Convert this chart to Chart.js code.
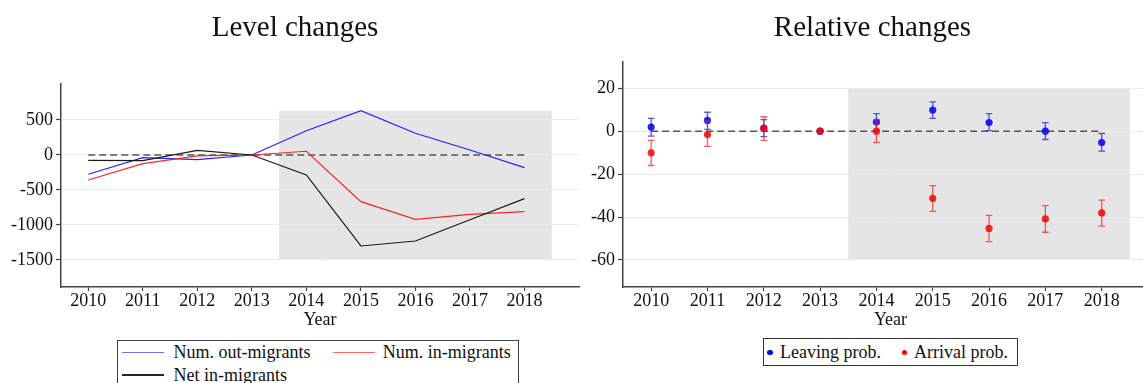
<!DOCTYPE html>
<html>
<head>
<meta charset="utf-8">
<script src="https://cdn.jsdelivr.net/npm/chart.js@4.4.1/dist/chart.umd.min.js"></script>
<style>
  html, body { margin: 0; padding: 0; overflow: hidden; background: #fff; }
  #wrap { position: relative; width: 1143px; height: 383px; overflow: hidden;
          font-family: "Liberation Serif", "Times New Roman", serif; color: #111; }
  canvas { position: absolute; top: 0; }
  #cLevel { left: 0; }
  #cRel { left: 580px; }
  .legend { position: absolute; box-sizing: border-box; background: #fff;
            font-size: 18px; line-height: 20px; }
  .item { position: absolute; white-space: nowrap; }
  .swatch { position: absolute; height: 1.5px; }
  .dot { position: absolute; width: 5.4px; height: 5.4px; border-radius: 50%; }
</style>
</head>
<body>
<div id="wrap">
  <canvas id="cLevel" width="580" height="383"></canvas>
  <canvas id="cRel" width="582" height="383"></canvas>
  <div id="legLevel" class="legend" style="left:117px;top:339.5px;width:402px;height:60px;border:1.5px solid #444;"></div>
  <div id="legRel" class="legend" style="left:762.7px;top:338.3px;width:255px;height:28px;border:1px solid #333;"></div>
</div>
<script>
// ---- data ----
const years = [2010, 2011, 2012, 2013, 2014, 2015, 2016, 2017, 2018];

// Level changes (persons, relative to 2013)
const outMigrants   = [-276, -38, -67, 0, 347, 633, 310, 71, -181];
const inMigrants    = [-357, -124, -14, 0, 53, -667, -919, -848, -809];
const netInMigrants = [-76, -81, 67, 0, -286, -1300, -1229, -925, -624];
const levelTicks = [-1500, -1000, -500, 0, 500];

// Relative changes (%, relative to 2013) with confidence intervals
const leaveEst  = [1.9, 5.0, 1.4, 0, 4.2, 9.8, 4.0, 0.0, -5.3];
const leaveLo   = [-2.3, 0.8, -2.6, null, 0.2, 5.9, 0.2, -3.9, -9.3];
const leaveHi   = [5.9, 8.8, 5.4, null, 8.2, 13.6, 8.2, 4.0, -1.1];
const arriveEst = [-10.1, -1.6, 1.2, 0, 0.0, -31.3, -45.3, -40.9, -38.1];
const arriveLo  = [-16.0, -7.1, -4.3, null, -5.3, -37.4, -51.5, -47.1, -44.2];
const arriveHi  = [-4.3, 4.7, 6.7, null, 5.4, -25.4, -39.2, -34.7, -32.1];
const relTicks = [-60, -40, -20, 0, 20];

// post-2013 period band
const postPeriod = [2013.5, 2018.5];
const levelBand = [-1500, 630];
const relBand = [-60, 20];

// ---- styling ----
const FONT = '"Liberation Serif", "Times New Roman", serif';
Chart.defaults.font.family = FONT;
Chart.defaults.color = '#111';

const BLUE = 'rgb(35,35,255)';
const RED = 'rgb(255,35,35)';
const BLACK = 'rgb(25,25,25)';
const DOT_BLUE = 'rgba(10,10,235,0.88)';
const DOT_RED = 'rgba(245,10,10,0.88)';
const BAR_BLUE = 'rgba(30,30,235,0.75)';
const BAR_RED = 'rgba(245,30,30,0.72)';
const AXIS = '#444';
const GRID = '#e6eded';

// shaded band behind everything, positioned through the scales
const bandPlugin = {
  id: 'band',
  beforeDraw(chart, args, opts) {
    const { ctx, scales: { x, y } } = chart;
    const x0 = x.getPixelForValue(opts.x[0]), x1 = x.getPixelForValue(opts.x[1]);
    const y0 = y.getPixelForValue(opts.y[1]), y1 = y.getPixelForValue(opts.y[0]);
    ctx.save();
    ctx.fillStyle = opts.color;
    ctx.fillRect(x0, y0, x1 - x0, y1 - y0);
    ctx.restore();
  }
};

// confidence-interval bars, drawn just before each dataset's points
const errorBarPlugin = {
  id: 'errorBars',
  beforeDatasetDraw(chart, args) {
    const ds = chart.data.datasets[args.index];
    if (!ds.errLo) return;
    const { ctx, scales: { x, y } } = chart;
    const cap = 3.3;
    ctx.save();
    ctx.strokeStyle = ds.errColor;
    ctx.lineWidth = 1.3;
    ds.data.forEach((p, i) => {
      const lo = ds.errLo[i], hi = ds.errHi[i];
      if (lo === null || hi === null) return;
      const px = x.getPixelForValue(p.x);
      const pl = y.getPixelForValue(lo), ph = y.getPixelForValue(hi);
      ctx.beginPath();
      ctx.moveTo(px, pl); ctx.lineTo(px, ph);
      ctx.moveTo(px - cap, pl); ctx.lineTo(px + cap, pl);
      ctx.moveTo(px - cap, ph); ctx.lineTo(px + cap, ph);
      ctx.stroke();
    });
    ctx.restore();
  }
};

const toXY = vals => years.map((yr, i) => ({ x: yr, y: vals[i] }));
const zeroLine = {
  label: 'zero',
  data: [{ x: years[0], y: 0 }, { x: years[years.length - 1], y: 0 }],
  borderColor: '#555', borderWidth: 1.5, borderDash: [7, 4],
  pointRadius: 0, showLine: true, type: 'line', order: 9
};

function xScale(axisHeight) {
  return {
    type: 'linear', min: 2009.5, max: 2019,
    afterBuildTicks: s => { s.ticks = years.map(v => ({ value: v })); },
    afterFit: s => { s.height = axisHeight; },
    ticks: { callback: v => String(v), font: { size: 18, lineHeight: 1 }, color: '#111',
             padding: 1, maxRotation: 0, autoSkip: false },
    grid: { drawOnChartArea: false, tickLength: 4, tickColor: AXIS, tickWidth: 1.2 },
    border: { color: AXIS, width: 1.5 },
    title: { display: true, text: 'Year', font: { size: 18, lineHeight: 1 }, color: '#111', padding: 0 }
  };
}
function yScale(min, max, ticks, width) {
  return {
    type: 'linear', min, max,
    afterBuildTicks: s => { s.ticks = ticks.map(v => ({ value: v })); },
    afterFit: s => { s.width = width; },
    ticks: { callback: v => String(v), font: { size: 18, lineHeight: 1 }, color: '#111', padding: 3 },
    grid: { color: GRID, lineWidth: 1, tickLength: 5, tickColor: AXIS, tickWidth: 1.2 },
    border: { color: AXIS, width: 1.5 }
  };
}
function titleOpts(text, bottomPad) {
  return { display: true, text, color: '#111',
           font: { size: 29, weight: 'normal', lineHeight: 1 },
           padding: { top: 14, bottom: bottomPad } };
}

// ---- Level changes ----
const levelSeries = [
  { label: 'Num. out-migrants', values: outMigrants, color: BLUE, order: 3 },
  { label: 'Num. in-migrants', values: inMigrants, color: RED, order: 2 },
  { label: 'Net in-migrants', values: netInMigrants, color: BLACK, order: 1 }
];
new Chart(document.getElementById('cLevel'), {
  type: 'line',
  data: {
    datasets: [
      ...levelSeries.map(s => ({
        label: s.label, data: toXY(s.values), borderColor: s.color,
        borderWidth: 1.2, pointRadius: 0, order: s.order, tension: 0
      })),
      zeroLine
    ]
  },
  options: {
    responsive: false, animation: false, devicePixelRatio: 1,
    layout: { padding: { left: 11, right: 1, top: 0, bottom: 54 } },
    plugins: {
      legend: { display: false }, tooltip: { enabled: false },
      title: titleOpts('Level changes', 41),
      band: { x: postPeriod, y: levelBand, color: '#e5e5e5' }
    },
    scales: { x: xScale(42), y: yScale(-1886, 1014, levelTicks, 50) }
  },
  plugins: [bandPlugin]
});

// ---- Relative changes ----
const relSeries = [
  { label: 'Leaving prob.', est: leaveEst, lo: leaveLo, hi: leaveHi, dot: DOT_BLUE, bar: BAR_BLUE, order: 2 },
  { label: 'Arrival prob.', est: arriveEst, lo: arriveLo, hi: arriveHi, dot: DOT_RED, bar: BAR_RED, order: 1 }
];
new Chart(document.getElementById('cRel'), {
  type: 'scatter',
  data: {
    datasets: [
      ...relSeries.map(s => ({
        label: s.label, data: toXY(s.est), errLo: s.lo, errHi: s.hi, errColor: s.bar,
        backgroundColor: s.dot, borderColor: s.dot, pointRadius: 3.6, pointBorderWidth: 0,
        showLine: false, order: s.order
      })),
      zeroLine
    ]
  },
  options: {
    responsive: false, animation: false, devicePixelRatio: 1,
    layout: { padding: { left: 4, right: 1, top: 0, bottom: 54 } },
    plugins: {
      legend: { display: false }, tooltip: { enabled: false },
      title: titleOpts('Relative changes', 19),
      band: { x: postPeriod, y: relBand, color: '#e5e5e5' }
    },
    scales: { x: xScale(42), y: yScale(-72.6, 32.2, relTicks, 39) }
  },
  plugins: [bandPlugin, errorBarPlugin]
});

// ---- legends ----
function addEl(parent, cls, css, text) {
  const el = document.createElement('div');
  el.className = cls;
  Object.assign(el.style, css);
  if (text) el.textContent = text;
  parent.appendChild(el);
  return el;
}
const legLevel = document.getElementById('legLevel');
const levelSlots = [
  { sw: [4.2, 11.3], tx: [55.5, 1.8] },
  { sw: [214.8, 11.3], tx: [264.8, 1.8] },
  { sw: [4.2, 33.5], tx: [55.5, 24] }
];
const legendLines = ['rgb(110,110,255)', 'rgb(255,105,105)', 'rgb(40,40,40)'];
levelSeries.forEach((s, i) => {
  const slot = levelSlots[i];
  addEl(legLevel, 'swatch', { left: slot.sw[0] + 'px', top: slot.sw[1] + 'px', width: '42px', background: legendLines[i] });
  addEl(legLevel, 'item', { left: slot.tx[0] + 'px', top: slot.tx[1] + 'px' }, s.label);
});
const legRel = document.getElementById('legRel');
const relSlots = [
  { dot: [3.6, 10.7], tx: [16.3, 3] },
  { dot: [137.9, 10.7], tx: [150.3, 3] }
];
const legendDots = ['rgb(0,0,255)', 'rgb(255,0,0)'];
relSeries.forEach((s, i) => {
  const slot = relSlots[i];
  addEl(legRel, 'dot', { left: slot.dot[0] + 'px', top: slot.dot[1] + 'px', background: legendDots[i] });
  addEl(legRel, 'item', { left: slot.tx[0] + 'px', top: slot.tx[1] + 'px' }, s.label);
});
</script>
</body>
</html>
